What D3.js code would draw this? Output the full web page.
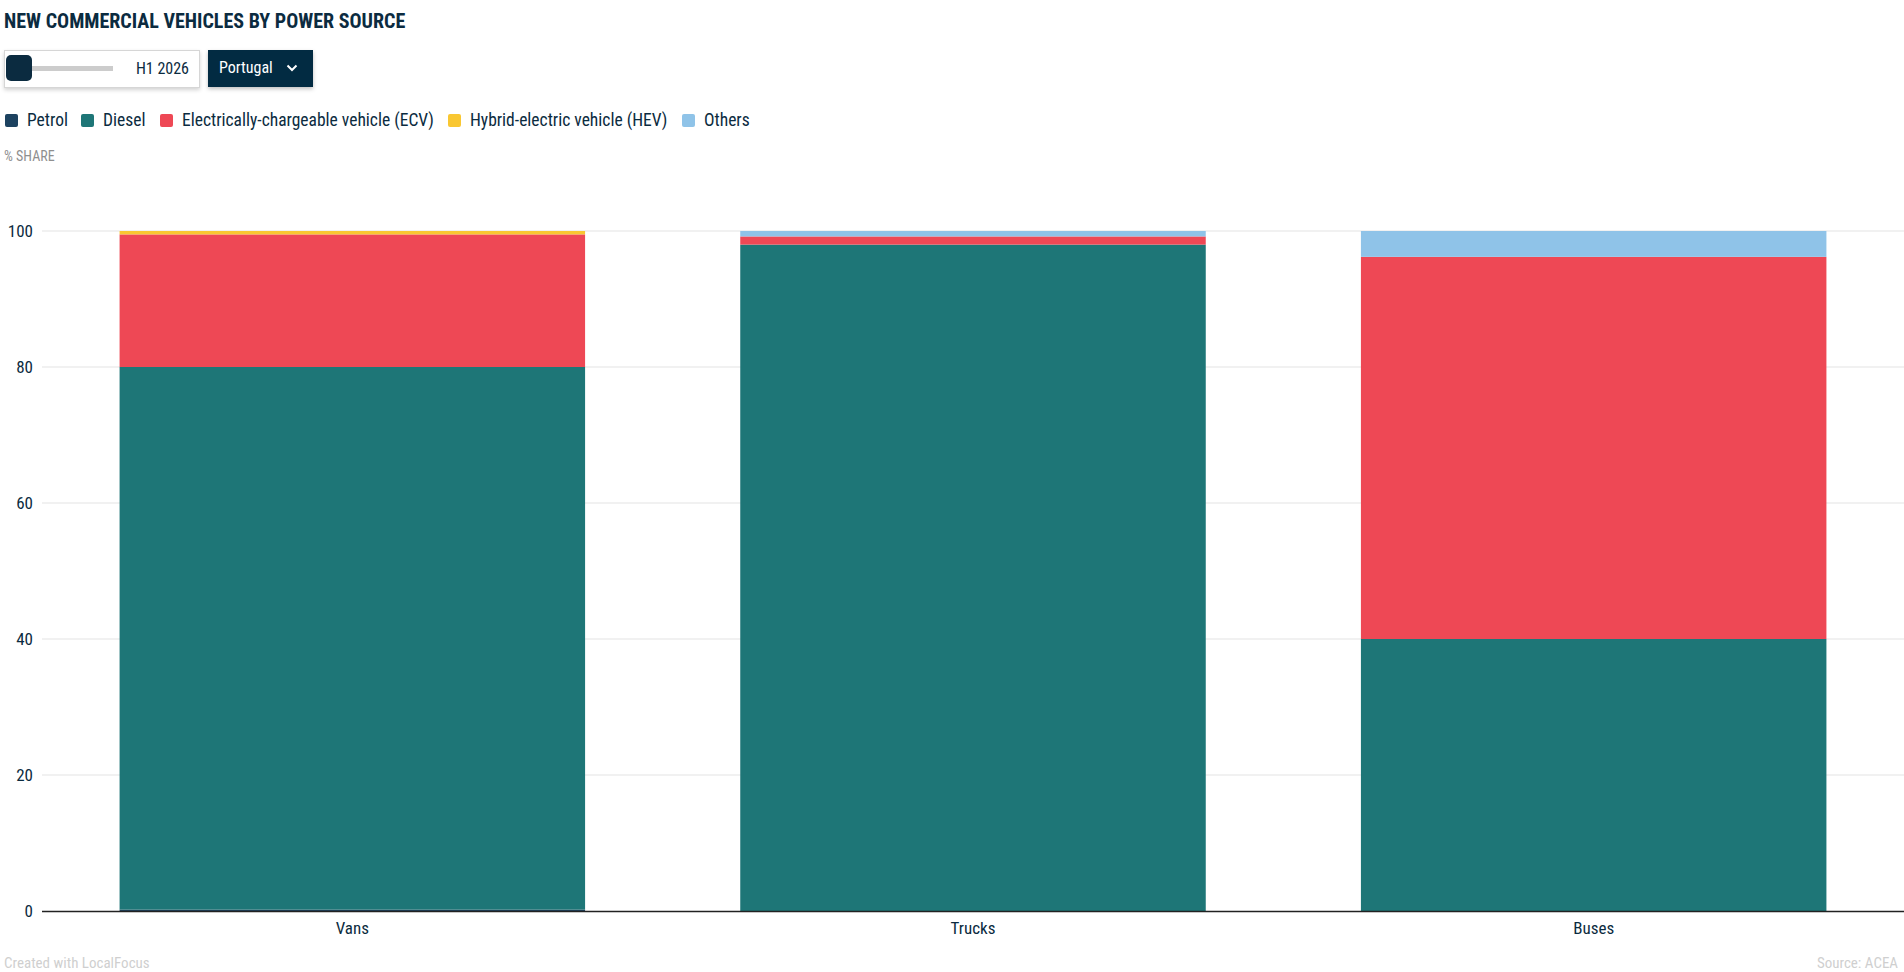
<!DOCTYPE html>
<html>
<head>
<meta charset="utf-8">
<script src="https://cdn.jsdelivr.net/npm/d3@7"></script>
<style>
  body { margin: 0; background: #fff; font-family: "Roboto Condensed", "Liberation Sans Narrow", "DejaVu Sans Condensed", Roboto, sans-serif; color: #0b2b40; }
  #chart { position: absolute; left: 0; top: 0; }
  .slider { position: absolute; left: 4px; top: 50px; width: 194px; height: 36px; border: 1px solid #d6d6d6; box-shadow: 0 2px 4px rgba(0,0,0,0.18); background: #fff; }
  .slider .track { position: absolute; left: 27px; top: 15px; width: 81px; height: 5px; background: #cccccc; }
  .slider .knob { position: absolute; left: 1px; top: 4px; width: 26px; height: 26px; border-radius: 5px; background: #0b2b40; }
  .slider .lbl { position: absolute; right: 10px; top: 8px; font-size: 16px; }
  .dropdown { position: absolute; left: 208px; top: 50px; width: 105px; height: 37px; background: #022b42; color: #fff; box-shadow: 0 2px 4px rgba(0,0,0,0.25); font-size: 16px; }
  .dropdown span { position: absolute; left: 11px; top: 8px; }
  .dropdown svg { position: absolute; left: 78px; top: 13px; }
</style>
</head>
<body>
<svg id="chart" width="1904" height="972"></svg>
<div class="slider"><div class="track"></div><div class="knob"></div><div class="lbl">H1 2026</div></div>
<div class="dropdown"><span>Portugal</span>
  <svg width="12" height="10"><path d="M1.5 2.5 L6 7 L10.5 2.5" fill="none" stroke="#fff" stroke-width="2"/></svg>
</div>
<script>
// categories and series
const categories = ["Vans", "Trucks", "Buses"];
const seriesNames = ["Petrol", "Diesel", "Electrically-chargeable vehicle (ECV)", "Hybrid-electric vehicle (HEV)", "Others"];
const seriesColors = ["#1d4260", "#1e7677", "#ee4855", "#f9c732", "#8fc3e8"];
// % share, one value per category
const petrol = [0.2, 0, 0];
const diesel = [79.8, 98.0, 40.0];
const ecv    = [19.5, 1.2, 56.2];
const hev    = [0.5, 0, 0];
const others = [0, 0.8, 3.8];
const yTicks = [0, 20, 40, 60, 80, 100];

const values = [petrol, diesel, ecv, hev, others];
const rows = categories.map((c, i) => {
  const r = { cat: c };
  seriesNames.forEach((s, j) => r[s] = values[j][i]);
  return r;
});

const svg = d3.select("#chart");
const plotLeft = 42, plotRight = 1904, plotTop = 231, plotBottom = 911;

const x = d3.scaleBand().domain(categories).range([plotLeft, plotRight]).paddingInner(0.25).paddingOuter(0.125);
const y = d3.scaleLinear().domain([0, 100]).range([plotBottom, plotTop]);

// title
svg.append("text").attr("x", 4).attr("y", 28)
  .attr("font-size", 20).attr("font-weight", 700).attr("fill", "#0b2b40")
  .text("NEW COMMERCIAL VEHICLES BY POWER SOURCE");

// legend
const legendX = [5, 81, 160, 448, 682];
const lg = svg.append("g");
seriesNames.forEach((s, i) => {
  lg.append("rect").attr("x", legendX[i]).attr("y", 114).attr("width", 13).attr("height", 13)
    .attr("rx", 2).attr("fill", seriesColors[i]);
  lg.append("text").attr("x", legendX[i] + 22).attr("y", 126)
    .attr("font-size", 17.5).attr("fill", "#0b2b40").text(s);
});

svg.append("text").attr("x", 4).attr("y", 161).attr("font-size", 14).attr("fill", "#8f8f8f").text("% SHARE");

// grid
svg.append("g").selectAll("line").data(yTicks.filter(d => d > 0)).join("line")
  .attr("x1", plotLeft).attr("x2", plotRight)
  .attr("y1", d => y(d)).attr("y2", d => y(d))
  .attr("stroke", "#e3e3e3").attr("stroke-width", 1);

// y labels
svg.append("g").selectAll("text").data(yTicks).join("text")
  .attr("x", 33).attr("y", d => y(d) + 6).attr("text-anchor", "end")
  .attr("font-size", 17).attr("fill", "#0b2b40").text(d => d);

// stacked bars
const stack = d3.stack().keys(seriesNames)(rows);
svg.append("g").selectAll("g").data(stack).join("g")
  .attr("fill", (d, i) => seriesColors[i])
  .selectAll("rect").data(d => d.filter(p => p[1] - p[0] > 0)).join("rect")
  .attr("x", d => x(d.data.cat))
  .attr("width", x.bandwidth())
  .attr("y", d => y(d[1]))
  .attr("height", d => y(d[0]) - y(d[1]));

// baseline
svg.append("line").attr("x1", plotLeft).attr("x2", plotRight).attr("y1", plotBottom + 0.5).attr("y2", plotBottom + 0.5)
  .attr("stroke", "#222").attr("stroke-width", 1.5);

// x labels
svg.append("g").selectAll("text").data(categories).join("text")
  .attr("x", d => x(d) + x.bandwidth() / 2).attr("y", 934)
  .attr("text-anchor", "middle").attr("font-size", 17).attr("fill", "#0b2b40").text(d => d);

// footer
svg.append("text").attr("x", 4).attr("y", 968).attr("font-size", 15).attr("fill", "#cfcfcf").text("Created with LocalFocus");
svg.append("text").attr("x", 1898).attr("y", 968).attr("text-anchor", "end").attr("font-size", 15).attr("fill", "#cfcfcf").text("Source: ACEA");
</script>
</body>
</html>
